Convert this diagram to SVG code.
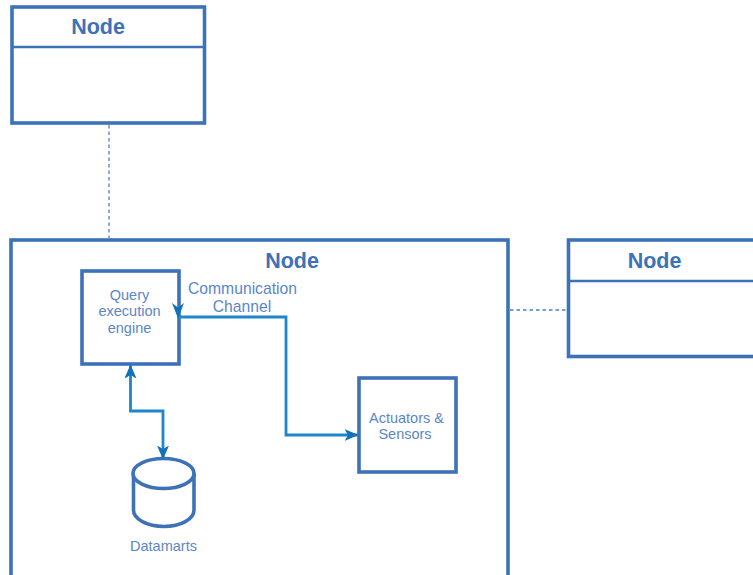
<svg xmlns="http://www.w3.org/2000/svg" width="753" height="575" viewBox="0 0 753 575">
<style>
text{font-family:"Liberation Sans",Arial,sans-serif;text-anchor:middle}
.box{fill:#fff;stroke:#3d72b8;stroke-width:3.600}
.div{fill:none;stroke:#3d72b8;stroke-width:2.400}
.title{font-size:21.500px;font-weight:bold;fill:#3d72b8}
.lab{font-size:14.500px;fill:#5b86c8}
.lab2{font-size:15.700px;fill:#5b86c8}
.dash{fill:none;stroke:#4f7fc0;stroke-width:1.300;stroke-dasharray:3.500 3}
.flow{fill:none;stroke:#1e86cc;stroke-width:2.800}
.cyl{fill:#fff;stroke:#3d72b8;stroke-width:3.600}
</style>
<defs>
<marker id="a" viewBox="0 0 14 12" refX="13.500" refY="6" markerWidth="14" markerHeight="12" markerUnits="userSpaceOnUse" orient="auto-start-reverse"><path d="M0 0L14 6L0 12L3.500 6Z" fill="#1271b8"/></marker>
</defs>
<rect width="753" height="575" fill="#fff"/>
<g id="connectors-dashed">
<path class="dash" d="M109 125V238"/>
<path class="dash" d="M510 310H566"/>
</g>
<g id="node-top">
<rect class="box" x="12" y="7" width="192.500" height="116"/>
<path class="div" d="M12 47H204"/>
<text class="title" x="98" y="34">Node</text>
</g>
<g id="node-main">
<rect class="box" x="11" y="240" width="497" height="340"/>
<text class="title" x="292" y="268">Node</text>
</g>
<g id="node-right">
<rect class="box" x="568.500" y="240" width="190" height="116.500"/>
<path class="div" d="M568 281H753"/>
<text class="title" x="654.500" y="268">Node</text>
</g>
<g id="node-query">
<rect class="box" x="82" y="271" width="97" height="93"/>
<text class="lab" x="129.500" y="300">Query</text>
<text class="lab" x="129.500" y="316">execution</text>
<text class="lab" x="129.500" y="333">engine</text>
</g>
<g id="node-actuators">
<rect class="box" x="359" y="378" width="97" height="94"/>
<text class="lab" x="406.500" y="423">Actuators &amp;</text>
<text class="lab" x="405" y="439">Sensors</text>
</g>
<g id="node-datamarts">
<path class="cyl" d="M133.500 475V510C133.500 519 147 526.500 164 526.500S194 519 194 510V475Z"/>
<ellipse class="cyl" cx="163.500" cy="473.500" rx="30.500" ry="15"/>
<text class="lab" x="163.500" y="551">Datamarts</text>
</g>
<text class="lab2" x="242.500" y="294">Communication</text>
<text class="lab2" x="242" y="312">Channel</text>
<g id="connectors">
<path class="flow" d="M178 317H286V435H358" marker-end="url(#a)"/>
<path class="flow" d="M130.500 365V411H163V459" marker-start="url(#a)" marker-end="url(#a)"/>
<path d="M178 318.500L172 303L178 307.500L184 303Z" fill="#1271b8"/>
</g>
</svg>
